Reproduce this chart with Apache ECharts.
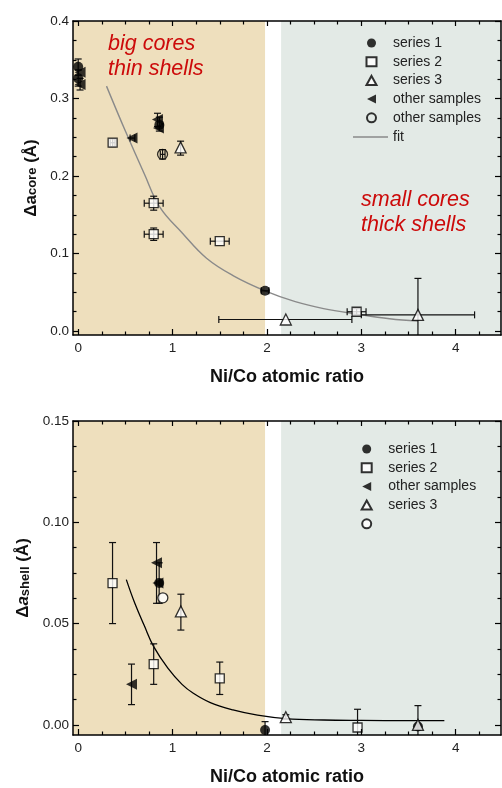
<!DOCTYPE html>
<html>
<head>
<meta charset="utf-8">
<script src="https://cdn.jsdelivr.net/npm/echarts@6/dist/echarts.min.js"></script>
<style>html,body{margin:0;padding:0;background:#fff;}#c{width:502px;height:788px;}</style>
</head>
<body>
<div id="c"></div>
<script>
const FONT = '"Liberation Sans", Arial, sans-serif';

// axis ranges / ticks
const xMin = -0.055, xMax = 4.48;
const xMajorTicks = [0, 1, 2, 3, 4];
const xMinorTicks = [0.25, 0.5, 0.75, 1.25, 1.5, 1.75, 2.25, 2.5, 2.75, 3.25, 3.5, 3.75, 4.25];
const topYMin = -0.005, topYMax = 0.4;
const topYMajor = [0, 0.1, 0.2, 0.3, 0.4];
const topYMinor = [0.025, 0.05, 0.075, 0.125, 0.15, 0.175, 0.225, 0.25, 0.275, 0.325, 0.35, 0.375];
const botYMin = -0.005, botYMax = 0.15;
const botYMajor = [0, 0.05, 0.10, 0.15];
const botYMinor = [0.0125, 0.025, 0.0375, 0.0625, 0.075, 0.0875, 0.1125, 0.125, 0.1375];

// shaded regions (x ranges)
const regionBigCores = [xMin, 1.98];
const regionSmallCores = [2.15, xMax];

// data rows: [x, y, xLow, xHigh, yLow, yHigh]
const topSeries1 = [
  [0, 0.341, 0, 0, 0.330, 0.351],
  [0, 0.326, 0, 0, 0.316, 0.337],
  [0.86, 0.266, 0.86, 0.86, 0.258, 0.276],
  [1.98, 0.052, 1.94, 2.02, 0.052, 0.052]
];
const topSeries2 = [
  [0.365, 0.243, 0.34, 0.39, 0.238, 0.248],
  [0.80, 0.165, 0.70, 0.90, 0.156, 0.174],
  [0.80, 0.125, 0.70, 0.90, 0.117, 0.133],
  [1.50, 0.116, 1.40, 1.60, 0.116, 0.116],
  [2.95, 0.025, 2.85, 3.05, 0.021, 0.029]
];
const topSeries3 = [
  [1.085, 0.237, 1.085, 1.085, 0.227, 0.245],
  [2.20, 0.015, 1.49, 2.90, 0.015, 0.015],
  [3.60, 0.021, 3.00, 4.20, -0.026, 0.068]
];
const topOtherTri = [
  [0.02, 0.334, 0.02, 0.02, 0.334, 0.334],
  [0.02, 0.318, 0.02, 0.02, 0.311, 0.326],
  [0.57, 0.249, 0.55, 0.60, 0.249, 0.249],
  [0.84, 0.273, 0.84, 0.84, 0.264, 0.281],
  [0.85, 0.262, 0.85, 0.85, 0.262, 0.262]
];
const topOtherCircle = [
  [0.894, 0.228, 0.87, 0.92, 0.222, 0.234]
];
const topFit = [[0.30,0.316],[0.5,0.258],[0.7,0.203],[0.865,0.160],[1.1,0.127],[1.36,0.094],[1.65,0.071],[1.98,0.052],[2.3,0.038],[2.6,0.029],[2.95,0.022],[3.3,0.016],[3.6,0.013]];

const botSeries1 = [
  [0.858, 0.070, 0.858, 0.858, 0.060, 0.080],
  [1.98, -0.0025, 1.98, 1.98, -0.0055, 0.0016],
  [3.60, -0.0008, 3.60, 3.60, -0.0008, -0.0008]
];
const botSeries2 = [
  [0.364, 0.070, 0.364, 0.364, 0.050, 0.090],
  [0.80, 0.030, 0.80, 0.80, 0.020, 0.040],
  [1.50, 0.023, 1.50, 1.50, 0.015, 0.031],
  [2.96, -0.0013, 2.96, 2.96, -0.006, 0.0077]
];
const botOtherTri = [
  [0.565, 0.020, 0.565, 0.565, 0.010, 0.030],
  [0.83, 0.080, 0.83, 0.83, 0.060, 0.090],
  [0.845, 0.070, 0.845, 0.845, 0.070, 0.070]
];
const botSeries3 = [
  [1.088, 0.056, 1.088, 1.088, 0.0468, 0.0645],
  [2.20, 0.0038, 2.20, 2.20, 0.0028, 0.005],
  [3.60, 0.000, 3.60, 3.60, -0.006, 0.0095]
];
const botOtherCircle = [
  [0.897, 0.0627, 0.897, 0.897, 0.0627, 0.0627]
];
const botFit = [[0.51,0.0717],[0.6,0.060],[0.7,0.049],[0.8,0.0386],[0.95,0.028],[1.1,0.020],[1.22,0.0156],[1.4,0.011],[1.64,0.0074],[1.9,0.0048],[2.2,0.0031],[2.6,0.0024],[3.0,0.0022],[3.5,0.0021],[3.88,0.0021]];

const LEFT_TRI = 'path://M10,0L10,10L0,5Z';
const topLegendMarkers = ['series 1', 'series 2', 'series 3', 'other samples', 'other samples '];
const topLegendLines = ['fit'];
const botLegendMarkers = ['series 1', 'series 2', 'other samples', 'series 3', ' '];

// ---------- helpers ----------
const axLine = {color: '#000', width: 1.5};
const tickLine = {color: '#000', width: 1.2};
const labelStyle = {fontSize: 13.5, color: '#222', fontFamily: FONT};

function xAxesFor(g) {
  const base = {type: 'value', gridIndex: g, min: xMin, max: xMax, splitLine: {show: false}, z: 10};
  return [
    Object.assign({}, base, {
      position: 'bottom',
      axisLine: {show: true, onZero: false, lineStyle: axLine},
      axisTick: {show: true, inside: true, length: 6, customValues: xMajorTicks, lineStyle: tickLine},
      axisLabel: Object.assign({show: true, customValues: xMajorTicks, margin: 6, formatter: v => String(v)}, labelStyle),
      name: 'Ni/Co atomic ratio', nameLocation: 'middle', nameGap: 33,
      nameTextStyle: {fontSize: 18, fontWeight: 'bold', color: '#111', fontFamily: FONT}
    }),
    Object.assign({}, base, {
      position: 'bottom', axisLine: {show: false, onZero: false},
      axisTick: {show: true, inside: true, length: 3.5, customValues: xMinorTicks, lineStyle: tickLine},
      axisLabel: {show: false}
    }),
    Object.assign({}, base, {
      position: 'top', axisLine: {show: true, onZero: false, lineStyle: axLine},
      axisTick: {show: true, inside: true, length: 5, customValues: xMajorTicks, lineStyle: tickLine},
      axisLabel: {show: false}
    }),
    Object.assign({}, base, {
      position: 'top', axisLine: {show: false, onZero: false},
      axisTick: {show: true, inside: true, length: 3.5, customValues: xMinorTicks, lineStyle: tickLine},
      axisLabel: {show: false}
    })
  ];
}

function yAxesFor(g, min, max, major, minor, decimals, name, rich) {
  const base = {type: 'value', gridIndex: g, min: min, max: max, splitLine: {show: false}, z: 10};
  return [
    Object.assign({}, base, {
      position: 'left',
      axisLine: {show: true, onZero: false, lineStyle: axLine},
      axisTick: {show: true, inside: true, length: 6, customValues: major, lineStyle: tickLine},
      axisLabel: Object.assign({show: true, customValues: major, margin: 4, formatter: v => v.toFixed(decimals)}, labelStyle),
      name: name, nameLocation: 'middle', nameGap: 27, nameRotate: 90,
      nameTextStyle: {rich: rich}
    }),
    Object.assign({}, base, {
      position: 'left', axisLine: {show: false, onZero: false},
      axisTick: {show: true, inside: true, length: 3.5, customValues: minor, lineStyle: tickLine},
      axisLabel: {show: false}
    }),
    Object.assign({}, base, {
      position: 'right', axisLine: {show: true, onZero: false, lineStyle: axLine},
      axisTick: {show: true, inside: true, length: 6, customValues: major, lineStyle: tickLine},
      axisLabel: {show: false}
    }),
    Object.assign({}, base, {
      position: 'right', axisLine: {show: false, onZero: false},
      axisTick: {show: true, inside: true, length: 3.5, customValues: minor, lineStyle: tickLine},
      axisLabel: {show: false}
    })
  ];
}

function renderErr(params, api) {
  const x = api.value(0), y = api.value(1);
  const xl = api.value(2), xh = api.value(3), yl = api.value(4), yh = api.value(5);
  const cap = 3.5;
  const style = {stroke: '#111', lineWidth: 1.2, fill: null};
  const ch = [];
  const ln = (x1, y1, x2, y2) => ch.push({type: 'line', shape: {x1, y1, x2, y2}, style});
  if (xh > xl) {
    const a = api.coord([xl, y]), b = api.coord([xh, y]);
    ln(a[0], a[1], b[0], b[1]);
    ln(a[0], a[1] - cap, a[0], a[1] + cap);
    ln(b[0], b[1] - cap, b[0], b[1] + cap);
  }
  if (yh > yl) {
    const a = api.coord([x, yl]), b = api.coord([x, yh]);
    ln(a[0], a[1], b[0], b[1]);
    ln(a[0] - cap, a[1], a[0] + cap, a[1]);
    ln(b[0] - cap, b[1], b[0] + cap, b[1]);
  }
  return {type: 'group', children: ch};
}

const markerStyles = {
  filledCircle: {symbol: 'circle', symbolSize: 10, itemStyle: {color: '#000', borderColor: '#000', borderWidth: 0}},
  openSquare: {symbol: 'rect', symbolSize: 9, itemStyle: {color: '#fff', borderColor: '#000', borderWidth: 1.3}},
  openTriangle: {symbol: 'triangle', symbolSize: 11, itemStyle: {color: '#fff', borderColor: '#000', borderWidth: 1.3}},
  leftTriangle: {symbol: LEFT_TRI, symbolSize: 11, itemStyle: {color: '#000', borderColor: '#000', borderWidth: 0}},
  openCircle: {symbol: 'circle', symbolSize: 10, itemStyle: {color: '#fff', borderColor: '#000', borderWidth: 1.3}}
};

function seriesFor(g, name, rows, styleKey, fillOverride) {
  const ms = markerStyles[styleKey];
  const itemStyle = Object.assign({}, ms.itemStyle, fillOverride ? {color: fillOverride} : {});
  return [
    {type: 'custom', name: name + '__err', xAxisIndex: g * 4, yAxisIndex: g * 4, clip: true, silent: true,
     renderItem: renderErr, data: rows, encode: {x: 0, y: 1}, z: 3},
    {type: 'scatter', name: name, xAxisIndex: g * 4, yAxisIndex: g * 4, silent: true,
     symbol: ms.symbol, symbolSize: ms.symbolSize,
     itemStyle: itemStyle, data: rows.map(r => [r[0], r[1]]), z: 4}
  ];
}

function bandArea() {
  return {
    silent: true,
    data: [
      [{xAxis: regionBigCores[0], itemStyle: {color: '#EEDFBD'}}, {xAxis: regionBigCores[1]}],
      [{xAxis: regionSmallCores[0], itemStyle: {color: '#E3EAE6'}}, {xAxis: regionSmallCores[1]}]
    ]
  };
}

const richBase = {fontFamily: FONT, color: '#111'};
const topRich = {
  d: Object.assign({fontSize: 17, fontWeight: 'bold', lineHeight: 17, verticalAlign: 'top'}, richBase),
  a: Object.assign({fontSize: 17, fontWeight: 'bold', lineHeight: 17, verticalAlign: 'top'}, richBase),
  s: Object.assign({fontSize: 13, fontWeight: 'bold', lineHeight: 13, padding: [8, 0, 0, 0], verticalAlign: 'bottom'}, richBase)
};
const botRich = {
  d: Object.assign({fontSize: 17, fontWeight: 'bold', lineHeight: 17, verticalAlign: 'top'}, richBase),
  a: Object.assign({fontSize: 17, fontWeight: 'bold', fontStyle: 'italic', lineHeight: 17, verticalAlign: 'top'}, richBase),
  s: Object.assign({fontSize: 13, fontWeight: 'bold', lineHeight: 13, padding: [8, 0, 0, 0], verticalAlign: 'bottom'}, richBase)
};

const series = [].concat(
  [{type: 'line', name: 'fit', xAxisIndex: 0, yAxisIndex: 0, data: topFit, smooth: 0.4, symbol: 'none', silent: true,
    lineStyle: {color: '#8a8a8a', width: 1.4}, itemStyle: {color: '#8a8a8a'}, z: 2, markArea: bandArea()}],
  seriesFor(0, 'series 2', topSeries2, 'openSquare'),
  seriesFor(0, 'series 3', topSeries3, 'openTriangle'),
  seriesFor(0, 'other samples ', topOtherCircle, 'openCircle', 'rgba(255,255,255,0)'),
  seriesFor(0, 'series 1', topSeries1, 'filledCircle'),
  seriesFor(0, 'other samples', topOtherTri, 'leftTriangle'),
  [{type: 'line', name: 'fit2', xAxisIndex: 4, yAxisIndex: 4, data: botFit, smooth: 0.4, symbol: 'none', silent: true,
    lineStyle: {color: '#000', width: 1.3}, z: 2, markArea: bandArea()}],
  seriesFor(1, 'series 1', botSeries1, 'filledCircle'),
  seriesFor(1, 'series 2', botSeries2, 'openSquare'),
  seriesFor(1, 'series 3', botSeries3, 'openTriangle'),
  seriesFor(1, ' ', botOtherCircle, 'openCircle'),
  seriesFor(1, 'other samples', botOtherTri, 'leftTriangle')
);

const legendText = {fontSize: 14, color: '#222', fontFamily: FONT, lineHeight: 14};
const markerLegend = {
  orient: 'vertical', padding: 0, itemWidth: 10, itemHeight: 9, itemGap: 4.7, selectedMode: false,
  textStyle: Object.assign({padding: [0, 0, 0, 11.5]}, legendText)
};
const toLegendData = names => names.map(n => n === 'other samples' ? {name: n, icon: LEFT_TRI} : {name: n});

const option = {
  animation: false,
  backgroundColor: '#fff',
  grid: [
    {left: 73, right: 1, top: 21, height: 314, containLabel: false},
    {left: 73, right: 1, top: 421, height: 314, containLabel: false}
  ],
  xAxis: xAxesFor(0).concat(xAxesFor(1)),
  yAxis: yAxesFor(0, topYMin, topYMax, topYMajor, topYMinor, 1, '{d|Δ}{a|a}{s|core}{d| (Å)}', topRich)
    .concat(yAxesFor(1, botYMin, botYMax, botYMajor, botYMinor, 2, '{d|Δ}{a|a}{s|shell}{d| (Å)}', botRich)),
  legend: [
    Object.assign({left: 365.5, top: 36, data: toLegendData(topLegendMarkers)}, markerLegend),
    {left: 353, top: 130, padding: 0, orient: 'vertical', itemWidth: 35, itemHeight: 1.5, selectedMode: false,
     textStyle: legendText, data: topLegendLines.map(n => ({name: n, icon: 'rect'}))},
    Object.assign({left: 360.7, top: 442, data: toLegendData(botLegendMarkers)}, markerLegend)
  ],
  graphic: [
    {type: 'text', left: 108, top: 32, z: 20, style: {text: 'big cores\nthin shells', font: 'italic 21.5px ' + FONT, fill: '#CC0A0A', lineHeight: 25}},
    {type: 'text', left: 361, top: 188, z: 20, style: {text: 'small cores\nthick shells', font: 'italic 21.5px ' + FONT, fill: '#CC0A0A', lineHeight: 25}}
  ],
  series: series
};

const chart = echarts.init(document.getElementById('c'), null, {renderer: 'canvas'});
chart.setOption(option);
</script>
</body>
</html>
